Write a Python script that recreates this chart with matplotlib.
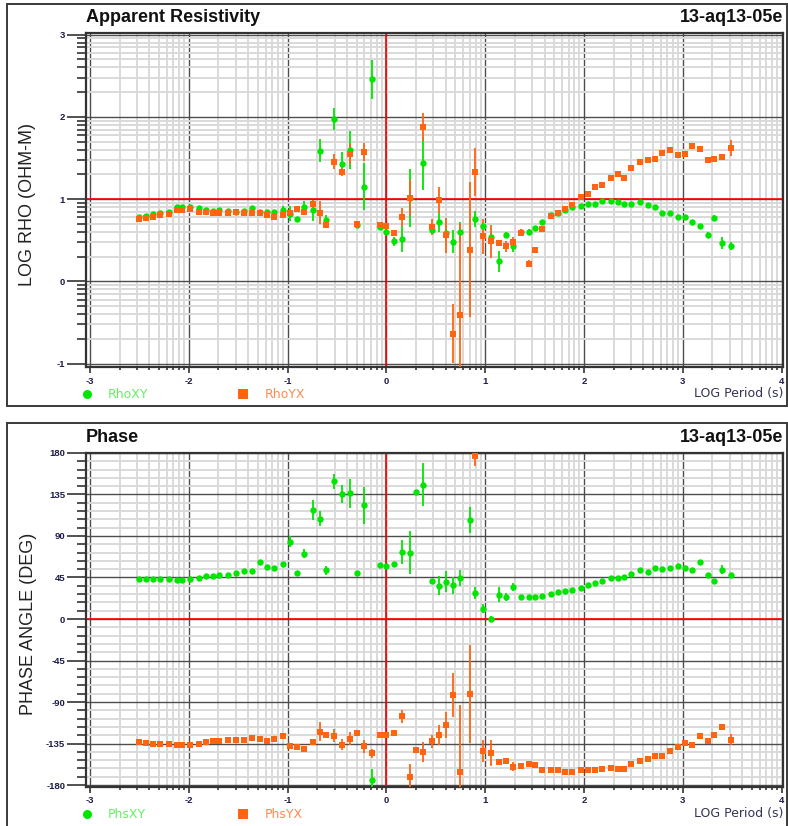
import numpy as np
import matplotlib
matplotlib.use("Agg")
import matplotlib.pyplot as plt
from matplotlib.patches import Rectangle
from matplotlib.lines import Line2D
from matplotlib.ticker import MultipleLocator, FixedLocator

nan = np.nan

# log10 of period (s)
log_period = [-2.507, -2.429, -2.362, -2.288, -2.203, -2.119, -2.065, -1.991, -1.900, -1.822,
              -1.755, -1.694, -1.603, -1.525, -1.441, -1.357, -1.276, -1.208, -1.137, -1.050,
              -0.975, -0.908, -0.837, -0.746, -0.672, -0.614, -0.530, -0.449, -0.368, -0.301,
              -0.230, -0.145, -0.064, -0.004, 0.074, 0.162, 0.236, 0.303, 0.371, 0.459,
              0.536, 0.604, 0.671, 0.742, 0.843, 0.902, 0.978, 1.062, 1.145, 1.213,
              1.278, 1.368, 1.439, 1.506, 1.579, 1.668, 1.742, 1.810, 1.884, 1.968,
              2.044, 2.113, 2.184, 2.272, 2.346, 2.409, 2.481, 2.571, 2.650, 2.717,
              2.790, 2.876, 2.955, 3.021, 3.092, 3.176, 3.255, 3.316, 3.394, 3.487]

rho_xy = [0.781, 0.798, 0.822, 0.834, 0.850, 0.899, 0.907, 0.907, 0.891, 0.870,
          0.862, 0.870, 0.858, 0.850, 0.858, 0.887, 0.842, 0.850, 0.850, 0.866,
          0.822, 0.757, 0.907, 0.866, 1.587, 0.741, 1.976, 1.433, 1.599, 0.692,
          1.154, 2.457, 0.660, 0.607, 0.486, 0.522, 1.012, nan, 1.437, 0.628,
          0.721, 0.583, 0.482, 0.603, nan, 0.761, 0.676, 0.538, 0.243, 0.567,
          0.433, 0.607, 0.607, 0.648, 0.725, 0.806, 0.830, 0.870, 0.899, 0.919,
          0.943, 0.947, 0.972, 0.972, 0.960, 0.943, 0.943, 0.960, 0.927, 0.907,
          0.834, 0.834, 0.789, 0.789, 0.717, 0.676, 0.567, 0.773, 0.466, 0.433]
rho_xy_err = [0.02, 0.02, 0.02, 0.02, 0.02, 0.02, 0.02, 0.02, 0.02, 0.02,
              0.02, 0.02, 0.02, 0.02, 0.02, 0.03, 0.02, 0.02, 0.02, 0.05,
              0.09, 0.03, 0.07, 0.13, 0.14, 0.07, 0.13, 0.14, 0.23, 0.02,
              0.29, 0.24, 0.03, 0.03, 0.05, 0.17, 0.35, nan, 0.32, 0.04,
              0.12, 0.09, 0.14, 0.12, nan, 0.10, 0.04, 0.05, 0.13, 0.04,
              0.08, 0.03, 0.03, 0.03, 0.02, 0.02, 0.02, 0.02, 0.02, 0.02,
              0.02, 0.02, 0.02, 0.02, 0.02, 0.02, 0.02, 0.02, 0.02, 0.02,
              0.02, 0.02, 0.02, 0.02, 0.02, 0.02, 0.03, 0.03, 0.07, 0.05]

rho_yx = [0.757, 0.773, 0.789, 0.806, 0.818, 0.866, 0.870, 0.883, 0.850, 0.850,
          0.838, 0.838, 0.834, 0.846, 0.834, 0.838, 0.834, 0.806, 0.785, 0.806,
          0.830, 0.883, 0.850, 0.947, 0.838, 0.684, 1.457, 1.336, 1.547, 0.696,
          1.571, nan, 0.692, 0.668, 0.587, 0.781, 1.012, nan, 1.883, 0.664,
          0.992, 0.559, -0.636, -0.405, 0.385, 1.332, 0.547, 0.486, 0.466, 0.425,
          0.478, 0.587, 0.215, 0.377, 0.636, 0.794, 0.826, 0.879, 0.927, 1.024,
          1.061, 1.146, 1.178, 1.255, 1.308, 1.255, 1.381, 1.457, 1.478, 1.486,
          1.567, 1.599, 1.534, 1.551, 1.644, 1.615, 1.474, 1.490, 1.518, 1.619]
rho_yx_err = [0.02, 0.02, 0.02, 0.02, 0.02, 0.02, 0.02, 0.02, 0.02, 0.02,
              0.02, 0.02, 0.02, 0.02, 0.02, 0.02, 0.02, 0.02, 0.02, 0.02,
              0.02, 0.02, 0.02, 0.04, 0.14, 0.03, 0.09, 0.05, 0.12, 0.02,
              0.11, nan, 0.02, 0.03, 0.02, 0.11, 0.22, nan, 0.17, 0.10,
              0.16, 0.21, 0.36, 1.10, 0.82, 0.29, 0.21, 0.20, 0.04, 0.07,
              0.06, 0.03, 0.04, 0.02, 0.02, 0.02, 0.02, 0.02, 0.02, 0.02,
              0.02, 0.02, 0.02, 0.02, 0.02, 0.02, 0.02, 0.02, 0.02, 0.02,
              0.02, 0.02, 0.02, 0.02, 0.02, 0.02, 0.02, 0.02, 0.02, 0.10]

phs_xy = [43.3, 43.0, 43.0, 43.3, 43.3, 42.3, 41.9, 43.3, 44.8, 46.2,
          46.6, 47.3, 48.0, 49.8, 51.7, 51.7, 61.4, 56.0, 55.3, 59.6,
          83.8, 49.5, 70.8, 117.8, 108.7, 52.7, 149.2, 135.8, 136.2, 49.8,
          123.2, -174.1, 58.9, 57.4, 59.6, 72.2, 71.9, 137.6, 145.6, 40.8,
          36.1, 40.5, 36.5, 44.4, 106.9, 28.2, 11.2, 0.0, 26.4, 23.8,
          34.7, 23.8, 23.8, 23.8, 24.9, 27.1, 29.3, 30.7, 31.4, 33.2,
          36.8, 39.0, 40.8, 44.1, 44.8, 45.9, 49.1, 52.7, 51.3, 55.6,
          54.5, 55.3, 57.4, 55.3, 53.5, 61.4, 47.3, 41.5, 53.5, 48.0]
phs_xy_err = [1.5, 1.5, 1.5, 1.5, 1.5, 1.5, 1.5, 1.5, 1.5, 1.5,
              1.5, 1.5, 1.5, 1.5, 1.5, 1.5, 2.0, 2.0, 2.0, 2.0,
              6.0, 3.0, 5.0, 11.0, 8.0, 5.0, 8.0, 10.0, 16.0, 2.0,
              20.0, 12.0, 2.0, 2.0, 2.5, 13.0, 23.0, 2.0, 23.0, 3.0,
              10.0, 11.0, 9.0, 9.0, 14.0, 7.0, 5.0, 3.0, 8.0, 4.0,
              4.0, 2.0, 2.0, 2.0, 2.0, 2.0, 2.0, 2.0, 2.0, 2.0,
              2.0, 2.0, 2.0, 2.0, 2.0, 2.0, 2.0, 2.0, 2.0, 2.0,
              2.0, 2.0, 2.0, 2.0, 2.0, 2.0, 2.0, 2.0, 5.0, 2.0]

phs_yx = [-133.6, -134.7, -135.1, -135.1, -135.8, -136.5, -136.9, -136.5, -135.1, -133.6,
          -132.6, -132.2, -131.5, -131.5, -131.5, -128.6, -129.7, -131.8, -129.7, -126.4,
          -137.3, -138.7, -140.9, -133.6, -122.1, -125.3, -126.8, -136.5, -129.7, -123.9,
          -138.0, -145.6, -125.7, -125.7, -123.5, -105.5, -171.2, -141.6, -144.5, -132.6,
          -126.1, -115.2, -82.7, -165.8, -81.3, 176.3, -142.7, -145.2, -155.0, -154.2,
          -160.0, -158.9, -156.8, -158.6, -164.0, -164.0, -164.0, -165.8, -166.2, -164.0,
          -164.0, -163.3, -162.5, -161.8, -162.5, -162.9, -157.5, -154.2, -151.7, -148.5,
          -148.5, -142.7, -138.7, -134.0, -136.2, -127.1, -131.8, -125.3, -116.7, -131.1]
phs_yx_err = [1.5, 1.5, 1.5, 1.5, 1.5, 1.5, 1.5, 1.5, 1.5, 1.5,
              1.5, 1.5, 1.5, 1.5, 1.5, 1.5, 1.5, 1.5, 1.5, 1.5,
              2.0, 2.0, 2.0, 2.5, 10.0, 2.0, 7.0, 6.0, 7.0, 2.0,
              7.0, 5.0, 2.0, 2.0, 2.0, 7.0, 14.0, 2.0, 11.0, 7.0,
              11.0, 14.0, 24.0, 73.0, 53.0, 10.0, 12.0, 14.0, 2.0, 2.0,
              5.0, 2.0, 3.0, 2.0, 2.0, 2.0, 2.0, 2.0, 2.0, 2.0,
              2.0, 2.0, 2.0, 2.0, 2.0, 2.0, 2.0, 2.0, 2.0, 2.0,
              2.0, 2.0, 2.0, 2.0, 2.0, 2.0, 2.0, 2.0, 2.0, 6.0]

site = "13-aq13-05e"

GREEN = "#00e600"
ORANGE = "#ff6410"
NAVY = "#1c1c48"
W, H = 788, 826

plt.rcParams['font.family'] = ['Liberation Sans', 'DejaVu Sans']
plt.rcParams['axes.unicode_minus'] = False

fig = plt.figure(figsize=(W / 100, H / 100), dpi=100)


def fx(px):
    return px / W


def fy(py):
    return 1 - py / H


# panel frames
fig.add_artist(Rectangle((fx(7), fy(406)), fx(787) - fx(7), fy(4) - fy(406),
                         transform=fig.transFigure, fill=False, ec="#3a3a3a", lw=1.4))
fig.add_artist(Rectangle((fx(7), fy(830)), fx(787) - fx(7), fy(423) - fy(830),
                         transform=fig.transFigure, fill=False, ec="#3a3a3a", lw=1.4))

ax1 = fig.add_axes([fx(86), fy(367), fx(783) - fx(86), fy(33) - fy(367)])
ax2 = fig.add_axes([fx(86), fy(786.5), fx(783) - fx(86), fy(452.7) - fy(786.5)])

x = np.array(log_period)
log_minor = [d + np.log10(k) for d in range(-4, 5) for k in range(2, 10)]

for ax in (ax1, ax2):
    ax.set_xlim(-3.04, 4.015)
    ax.xaxis.set_major_locator(MultipleLocator(1))
    ax.xaxis.set_minor_locator(FixedLocator(log_minor))
    ax.grid(which='minor', color='#d9d9d9', lw=1.4)
    ax.grid(which='major', color='#4d4d4d', lw=1.0)
    ax.set_axisbelow(True)
    ax.axvline(0, color='red', lw=1.2, zorder=1.5)
    for s in ax.spines.values():
        s.set_color('#333333')
        s.set_linewidth(1.6)
    ax.tick_params(axis='y', which='major', direction='out', length=13.5, width=1.2,
                   color='#333333', labelsize=6.8, labelcolor=NAVY, pad=1.5)
    ax.tick_params(axis='y', which='minor', direction='out', length=6.5, width=1.2,
                   color='#333333')
    ax.tick_params(axis='x', which='major', direction='out', length=4.5, width=1.2,
                   color='#333333', labelsize=6.8, labelcolor=NAVY, pad=2.5)
    ax.tick_params(axis='x', which='minor', direction='out', length=2.5, width=1.2,
                   color='#333333')
    ax.xaxis.set_major_formatter(lambda v, p: "%d" % round(v))
    ax.yaxis.set_major_formatter(lambda v, p: "%d" % round(v))

# apparent resistivity
ax1.set_ylim(-1.04, 3.02)
ax1.yaxis.set_major_locator(MultipleLocator(1))
ax1.yaxis.set_minor_locator(FixedLocator(log_minor))
ax1.axhline(1, color='red', lw=1.2, zorder=1.5)
ax1.errorbar(x, rho_xy, yerr=rho_xy_err, fmt='o', color=GREEN, ms=4.6, mew=0,
             elinewidth=1.3, capsize=0, zorder=3)
ax1.errorbar(x, rho_yx, yerr=rho_yx_err, fmt='s', color=ORANGE, ms=4.6, mew=0,
             elinewidth=1.3, capsize=0, zorder=3)

# phase
ax2.set_ylim(-181.6, 180.3)
ax2.yaxis.set_major_locator(MultipleLocator(45))
ax2.yaxis.set_minor_locator(MultipleLocator(9))
ax2.axhline(0, color='red', lw=1.2, zorder=1.5)
ax2.errorbar(x, phs_xy, yerr=phs_xy_err, fmt='o', color=GREEN, ms=4.6, mew=0,
             elinewidth=1.3, capsize=0, zorder=3)
ax2.errorbar(x, phs_yx, yerr=phs_yx_err, fmt='s', color=ORANGE, ms=4.6, mew=0,
             elinewidth=1.3, capsize=0, zorder=3)

for ax in (ax1, ax2):
    for lab in ax.get_xticklabels() + ax.get_yticklabels():
        lab.set_fontweight('bold')

# titles and labels
for py, title in ((18, "Apparent Resistivity"), (438, "Phase")):
    fig.text(fx(86), fy(py), title, fontsize=13, fontweight='bold',
             ha='left', va='center', color='#111111')
    fig.text(fx(783), fy(py), site, fontsize=13, fontweight='bold', ha='right',
             va='center', color='#111111')
fig.text(fx(28), fy(204), "LOG RHO (OHM-M)", fontsize=13, rotation=90,
         ha='center', va='center', color='#222222')
fig.text(fx(29), fy(624), "PHASE ANGLE (DEG)", fontsize=13, rotation=90,
         ha='center', va='center', color='#222222')

for py, names in ((394, ("RhoXY", "RhoYX")), (814, ("PhsXY", "PhsYX"))):
    fig.add_artist(Line2D([fx(87)], [fy(py)], transform=fig.transFigure, marker='o',
                          ms=6.5, color=GREEN, mew=0))
    fig.text(fx(108), fy(py), names[0], fontsize=9, family='DejaVu Sans',
             color='#66ee66', ha='left', va='center')
    fig.add_artist(Line2D([fx(243)], [fy(py)], transform=fig.transFigure, marker='s',
                          ms=6.5, color=ORANGE, mew=0))
    fig.text(fx(265), fy(py), names[1], fontsize=9, family='DejaVu Sans',
             color='#ff8a50', ha='left', va='center')
    fig.text(fx(783), fy(py - 1), "LOG Period (s)", fontsize=9, family='DejaVu Sans',
             color='#333355', ha='right', va='center')

fig.savefig("out.png", dpi=100)
